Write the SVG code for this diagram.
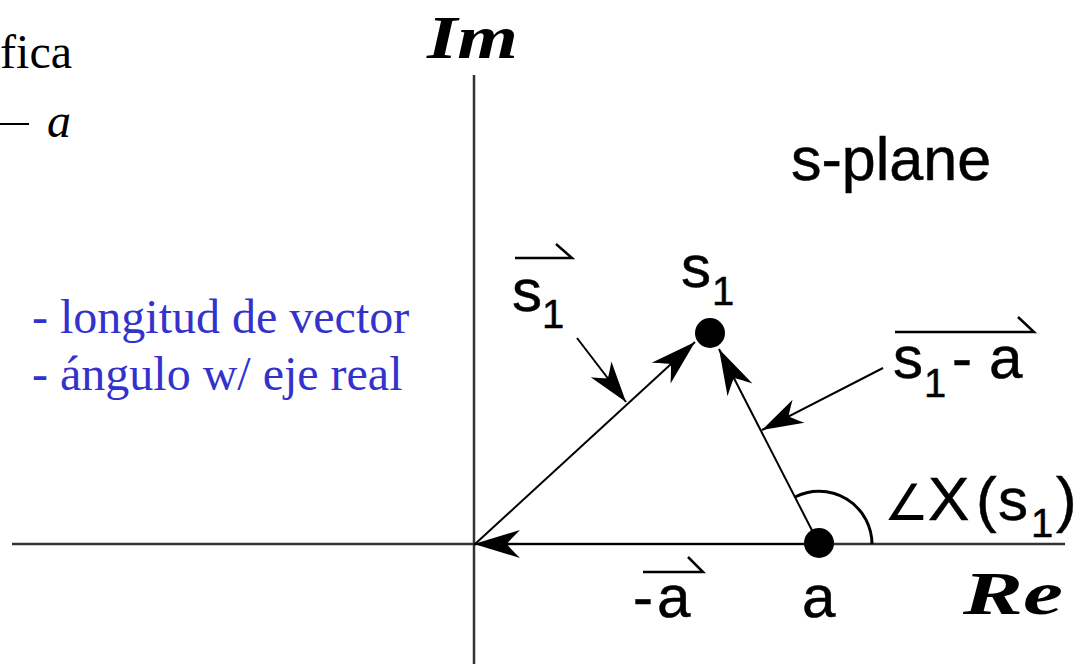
<svg xmlns="http://www.w3.org/2000/svg" width="1088" height="664" viewBox="0 0 1088 664">
<style>
.lab{font-family:"Liberation Sans",Arial,sans-serif;fill:#000;stroke:#000;stroke-width:0.5}
.big{font-size:60px}
.sub{font-size:40px}
.blue{font-family:"Liberation Serif","Times New Roman",serif;font-size:48px;fill:#3333cc}
.ser{font-family:"Liberation Serif","Times New Roman",serif;fill:#000}
.cal{font-family:"Liberation Serif","DejaVu Serif",serif;font-style:italic;font-weight:bold;font-size:62px;fill:#000}
.axis{stroke:#333;stroke-width:2.5;fill:none}
.vec{stroke:#000;stroke-width:2;fill:none}
.ol{stroke:#000;stroke-width:2.5;fill:none}
</style>
<defs>
<marker id="ah" markerUnits="userSpaceOnUse" viewBox="-48 -18 52 36" refX="0" refY="0" markerWidth="52" markerHeight="36" orient="auto" overflow="visible">
<path d="M0,0 L-46,-14 Q-34,-2 -33,0 Q-34,2 -46,14 Z" fill="#000"/>
</marker>
<marker id="ahs" markerUnits="userSpaceOnUse" viewBox="-48 -18 52 36" refX="0" refY="0" markerWidth="52" markerHeight="36" orient="auto" overflow="visible">
<path d="M0,0 L-41,-13 Q-31,-2 -30,0 Q-31,2 -41,13 Z" fill="#000"/>
</marker>
</defs>

<g id="top-left-text">
<text class="ser" x="72" y="68" font-size="48" text-anchor="end">fica</text>
<line x1="0" y1="124" x2="29" y2="124" stroke="#000" stroke-width="2"/>
<text class="ser" x="47" y="137" font-size="48" font-style="italic">a</text>
</g>

<g id="notes">
<text class="blue" x="32" y="333">- longitud de vector</text>
<text class="blue" x="32" y="390">- ángulo w/ eje real</text>
</g>

<g id="axes">
<line class="axis" x1="474" y1="75" x2="474" y2="664"/>
<line class="axis" x1="12" y1="544" x2="1065" y2="544"/>
<text class="cal" x="427" y="58" textLength="91" lengthAdjust="spacingAndGlyphs">Im</text>
<text class="cal" x="963" y="614" textLength="100" lengthAdjust="spacingAndGlyphs">Re</text>
</g>

<g id="connectors">
<line class="vec" x1="474" y1="545" x2="695" y2="342" marker-end="url(#ah)"/>
<line class="vec" x1="819" y1="544" x2="719" y2="349" marker-end="url(#ah)"/>
<line class="vec" x1="806" y1="544" x2="474" y2="544" marker-end="url(#ah)"/>
<line class="vec" x1="577" y1="338" x2="626" y2="402" marker-end="url(#ahs)"/>
<line class="vec" x1="883" y1="368" x2="762" y2="430" marker-end="url(#ahs)"/>
<path d="M795,497 A53,53 0 0 1 872,544" stroke="#000" stroke-width="3" fill="none"/>
</g>

<g id="node-s1">
<circle cx="710" cy="333" r="15" fill="#000"/>
<text class="lab big" x="681" y="287">s</text>
<text class="lab sub" x="712" y="305">1</text>
</g>

<g id="node-a">
<circle cx="819" cy="543" r="15" fill="#000"/>
<text class="lab big" x="802" y="617">a</text>
</g>

<g id="label-s-plane">
<text class="lab" x="791" y="180" font-size="61">s-plane</text>
</g>

<g id="label-vec-s1">
<path class="ol" d="M515,258 L572,258 L556,244"/>
<text class="lab big" x="512" y="311">s</text>
<text class="lab sub" x="542" y="328">1</text>
</g>

<g id="label-vec-s1-a">
<path class="ol" d="M895,332 L1034,332 L1018,317"/>
<text class="lab big" x="893" y="378">s</text>
<text class="lab sub" x="924" y="397">1</text>
<text class="lab big" x="952" y="378">-</text>
<text class="lab big" x="989" y="378">a</text>
</g>

<g id="label-angle">
<text x="884" y="520" font-family="DejaVu Sans,sans-serif" font-size="50" fill="#000">∠</text>
<text class="lab" x="928" y="520" font-size="62">X</text>
<text class="lab" x="976" y="520" font-size="62">(</text>
<text class="lab big" x="998" y="520">s</text>
<text class="lab sub" x="1031" y="537">1</text>
<text class="lab" x="1056" y="520" font-size="62">)</text>
</g>

<g id="label-vec-minus-a">
<path class="ol" d="M643,572 L703,572 L688,557"/>
<text class="lab big" x="633" y="617">-</text>
<text class="lab big" x="657" y="617">a</text>
</g>
</svg>
